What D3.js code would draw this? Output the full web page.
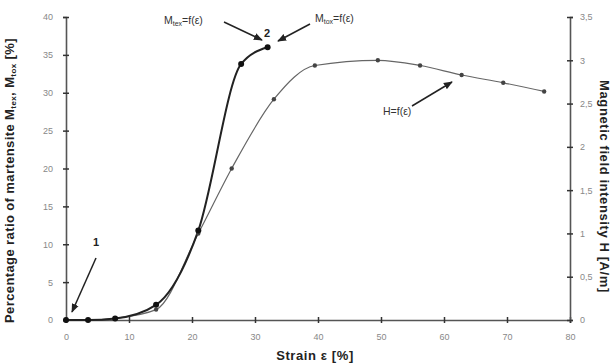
<!DOCTYPE html>
<html>
<head>
<meta charset="utf-8">
<script src="https://cdn.jsdelivr.net/npm/d3@7"></script>
<style>
  body { margin: 0; background: #fff; }
  svg { display: block; font-family: "Liberation Sans", Arial, sans-serif; }
</style>
</head>
<body>
<svg id="chart" width="614" height="364"></svg>
<script>
// strain [%] vs martensite ratio [%] (left axis)
const strainM = [0, 3.5, 7.8, 14.3, 21, 27.8, 32];
const martensite = [0, 0, 0.2, 2, 11.8, 33.8, 36];

// strain [%] vs magnetic field intensity H [A/m] (right axis)
const strainH = [0, 3.5, 7.8, 14.3, 21, 26.3, 33, 39.5, 49.5, 56.2, 62.8, 69.4, 75.9];
const fieldH = [0, 0, 0.02, 0.12, 1.0, 1.75, 2.55, 2.94, 3.0, 2.94, 2.83, 2.74, 2.64];

const xTicks = [0, 10, 20, 30, 40, 50, 60, 70, 80];
const leftTicks = [0, 5, 10, 15, 20, 25, 30, 35, 40];
const rightTicks = [0, 0.5, 1, 1.5, 2, 2.5, 3, 3.5];
const rightTickLabels = ['0', '0,5', '1', '1,5', '2', '2,5', '3', '3,5'];

const svg = d3.select('#chart');
const mLeft = 66, mRight = 570, mTop = 17, mBottom = 320;

const x = d3.scaleLinear().domain([0, 80]).range([mLeft, mRight]);
const yL = d3.scaleLinear().domain([0, 40]).range([mBottom, mTop]);
const yR = d3.scaleLinear().domain([0, 3.5]).range([mBottom, mTop]);

const axisColor = '#555';
const tickColor = '#888';

// defs for arrow heads
svg.append('defs').append('marker')
    .attr('id', 'arr')
    .attr('viewBox', '0 0 10 10')
    .attr('refX', 9).attr('refY', 5)
    .attr('markerWidth', 6).attr('markerHeight', 6)
    .attr('orient', 'auto')
    .append('path')
    .attr('d', 'M0,1 L10,5 L0,9 z')
    .attr('fill', '#222');

// axes
const gx = svg.append('g').attr('transform', `translate(0,${mBottom})`)
    .call(d3.axisBottom(x).tickValues(xTicks).tickSize(3).tickPadding(11));
const gl = svg.append('g').attr('transform', `translate(${mLeft},0)`)
    .call(d3.axisLeft(yL).tickValues(leftTicks).tickSize(3).tickPadding(10));
const gr = svg.append('g').attr('transform', `translate(${mRight},0)`)
    .call(d3.axisRight(yR).tickValues(rightTicks).tickSize(3).tickPadding(7)
        .tickFormat((d, i) => rightTickLabels[i]));

[gx, gl, gr].forEach(g => {
    g.select('.domain').attr('stroke', axisColor).attr('stroke-width', 1.6);
    g.selectAll('.tick line').attr('stroke', '#333').attr('stroke-width', 1.5);
    g.selectAll('.tick text').attr('fill', tickColor).attr('font-size', 9);
});
// ticks cross the axis lines
gx.selectAll('.tick line').attr('y1', -3).attr('y2', 3);
gl.selectAll('.tick line').attr('x1', 3).attr('x2', -3);
gr.selectAll('.tick line').attr('x1', -3).attr('x2', 3);

// lines
const lineM = d3.line()
    .x((d, i) => x(strainM[i]))
    .y(d => yL(d))
    .curve(d3.curveMonotoneX);
const lineH = d3.line()
    .x((d, i) => x(strainH[i]))
    .y(d => yR(d))
    .curve(d3.curveMonotoneX);

svg.append('path').datum(fieldH)
    .attr('d', lineH)
    .attr('fill', 'none')
    .attr('stroke', '#666')
    .attr('stroke-width', 1.2);

svg.append('path').datum(martensite)
    .attr('d', lineM)
    .attr('fill', 'none')
    .attr('stroke', '#222')
    .attr('stroke-width', 2);

svg.append('g').selectAll('circle')
    .data(fieldH)
    .join('circle')
    .attr('cx', (d, i) => x(strainH[i]))
    .attr('cy', d => yR(d))
    .attr('r', 2.2)
    .attr('fill', '#444');

svg.append('g').selectAll('circle')
    .data(martensite)
    .join('circle')
    .attr('cx', (d, i) => x(strainM[i]))
    .attr('cy', d => yL(d))
    .attr('r', 3)
    .attr('fill', '#111');

// annotations
function arrow(x1, y1, x2, y2) {
    svg.append('line')
        .attr('x1', x1).attr('y1', y1).attr('x2', x2).attr('y2', y2)
        .attr('stroke', '#222').attr('stroke-width', 1.5)
        .attr('marker-end', 'url(#arr)');
}
function label(tx, ty, main, sub, rest) {
    const t = svg.append('text').attr('x', tx).attr('y', ty)
        .attr('font-size', 10.5).attr('fill', '#333');
    t.append('tspan').text(main);
    if (sub) t.append('tspan').attr('font-size', 7).attr('dy', 2).text(sub);
    t.append('tspan').attr('dy', sub ? -2 : 0).text(rest);
}

label(164, 24, 'M', 'tex', '=f(ε)');
arrow(224, 22, 262, 40);
label(315, 22, 'M', 'tox', '=f(ε)');
arrow(310, 24, 278, 41);
svg.append('text').attr('x', 264).attr('y', 37)
    .attr('font-size', 11).attr('font-weight', 'bold').attr('fill', '#222').text('2');

label(383, 115, 'H', null, '=f(ε)');
arrow(412, 106, 452, 82);

svg.append('text').attr('x', 93).attr('y', 246)
    .attr('font-size', 11).attr('font-weight', 'bold').attr('fill', '#222').text('1');
arrow(96, 258, 72, 312);

// axis titles
svg.append('text')
    .attr('transform', `translate(14,${(mTop + mBottom) / 2 + 12}) rotate(-90)`)
    .attr('text-anchor', 'middle')
    .attr('font-size', 13).attr('font-weight', 'bold').attr('fill', '#222')
    .attr('letter-spacing', 0.4)
    .call(t => {
        t.append('tspan').text('Percentage ratio of martensite M');
        t.append('tspan').attr('font-size', 8).attr('dy', 2).text('tex');
        t.append('tspan').attr('dy', -2).text(', M');
        t.append('tspan').attr('font-size', 8).attr('dy', 2).text('tox');
        t.append('tspan').attr('dy', -2).text(' [%]');
    });

svg.append('text')
    .attr('transform', `translate(600,${(mTop + mBottom) / 2 + 18}) rotate(90)`)
    .attr('text-anchor', 'middle')
    .attr('font-size', 13).attr('font-weight', 'bold').attr('fill', '#222')
    .attr('letter-spacing', 0.6)
    .text('Magnetic field intensity H [A/m]');

svg.append('text')
    .attr('x', 315).attr('y', 360)
    .attr('text-anchor', 'middle')
    .attr('font-size', 13).attr('font-weight', 'bold').attr('fill', '#222')
    .attr('letter-spacing', 0.6)
    .text('Strain ε [%]');
</script>
</body>
</html>
